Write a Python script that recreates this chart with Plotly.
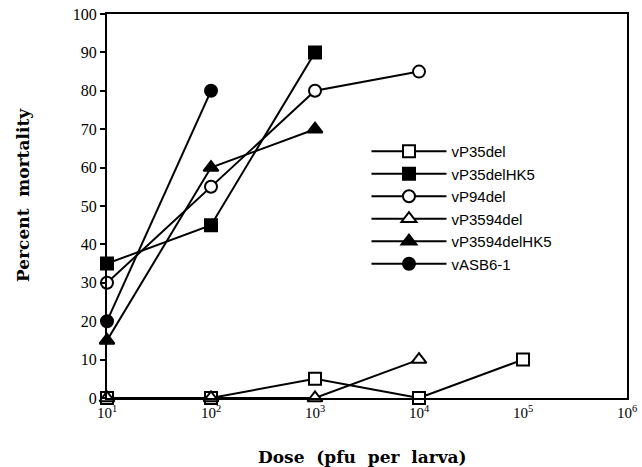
import plotly.graph_objects as go

# Data
doses_vP35del = [10, 100, 1000, 10000, 100000]
mort_vP35del = [0, 0, 5, 0, 10]
doses_vP35delHK5 = [10, 100, 1000]
mort_vP35delHK5 = [35, 45, 90]
doses_vP94del = [10, 100, 1000, 10000]
mort_vP94del = [30, 55, 80, 85]
doses_vP3594del = [10, 100, 1000, 10000]
mort_vP3594del = [0, 0, 0, 10]
doses_vP3594delHK5 = [10, 100, 1000]
mort_vP3594delHK5 = [15, 60, 70]
doses_vASB6 = [10, 100]
mort_vASB6 = [20, 80]

x_tickvals = [10, 100, 1000, 10000, 100000, 1000000]
x_ticktext = ["10<sup>1</sup>", "10<sup>2</sup>", "10<sup>3</sup>", "10<sup>4</sup>", "10<sup>5</sup>", "10<sup>6</sup>"]
y_tickvals = [0, 10, 20, 30, 40, 50, 60, 70, 80, 90, 100]

series = [
    ("vP35del", doses_vP35del, mort_vP35del, "square", "white"),
    ("vP35delHK5", doses_vP35delHK5, mort_vP35delHK5, "square", "black"),
    ("vP94del", doses_vP94del, mort_vP94del, "circle", "white"),
    ("vP3594del", doses_vP3594del, mort_vP3594del, "triangle-up", "white"),
    ("vP3594delHK5", doses_vP3594delHK5, mort_vP3594delHK5, "triangle-up", "black"),
    ("vASB6-1", doses_vASB6, mort_vASB6, "circle", "black"),
]

fig = go.Figure()
for name, x, y, sym, fill in series:
    fig.add_trace(go.Scatter(
        x=x, y=y, name=name, mode="lines+markers",
        line=dict(color="black", width=2),
        marker=dict(symbol=sym, size=13 if "triangle" in sym else 12, color=fill,
                    line=dict(color="black", width=2)),
        cliponaxis=False,
    ))

serif = "Liberation Serif, Times New Roman, serif"
title_font = "DejaVu Serif, serif"
fig.update_layout(
    width=642, height=467,
    margin=dict(l=107, r=15, t=14, b=69),
    plot_bgcolor="white", paper_bgcolor="white",
    showlegend=True,
    legend=dict(x=0.499, y=0.685, xanchor="left", yanchor="top",
                font=dict(family="Liberation Sans, Arial, sans-serif", size=15, color="black"),
                bgcolor="rgba(0,0,0,0)", itemwidth=75, tracegroupgap=0),
    xaxis=dict(type="log", range=[1, 6], tickvals=x_tickvals, ticktext=x_ticktext,
               showgrid=False, zeroline=False, showline=True, linecolor="black", linewidth=2,
               mirror=True, ticks="", automargin=False,
               tickfont=dict(family=serif, size=15, color="black")),
    yaxis=dict(range=[0, 100], tickvals=y_tickvals, showgrid=False, zeroline=False,
               showline=True, linecolor="black", linewidth=2, mirror=True,
               ticks="outside", ticklen=5, tickwidth=2, tickcolor="black", automargin=False,
               tickfont=dict(family=serif, size=16, color="black")),
    annotations=[
        dict(text="<b>Dose&nbsp; (pfu&nbsp; per&nbsp; larva)</b>", xref="paper", yref="paper",
             x=(362 - 107) / 520, y=-(457 - 398) / 384, xanchor="center", yanchor="middle",
             showarrow=False, font=dict(family=title_font, size=17, color="black")),
        dict(text="<b>Percent&nbsp; mortality</b>", xref="paper", yref="paper",
             x=-(107 - 23) / 520, y=(398 - 195) / 384, xanchor="center", yanchor="middle",
             textangle=-90, showarrow=False, font=dict(family=title_font, size=17, color="black")),
    ],
)

# remove the default page margin so the 642x467 figure fills the window exactly
fig.write_html("out.html", config={"displayModeBar": False},
               post_script="document.body.style.margin='0';")
